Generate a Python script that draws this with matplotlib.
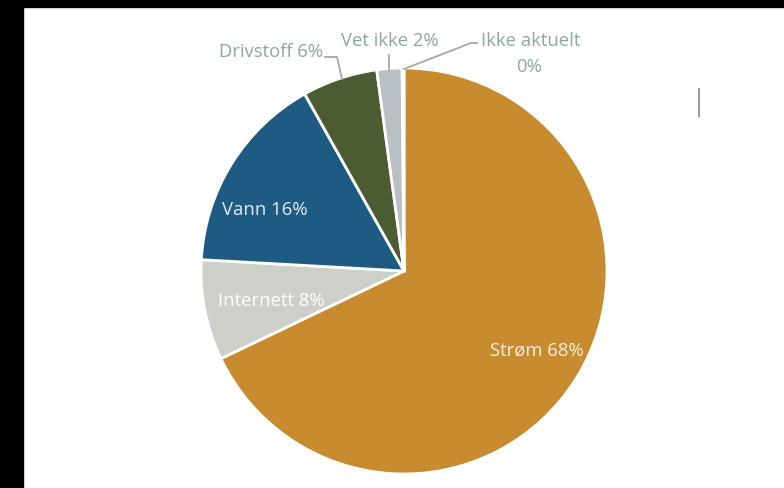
import matplotlib
matplotlib.use("Agg")
import matplotlib.pyplot as plt
from matplotlib.patches import Rectangle

categories = ["Strøm", "Internett", "Vann", "Drivstoff", "Vet ikke", "Ikke aktuelt"]
values = [68, 8, 16, 6, 2, 0.15]
pct_labels = ["68%", "8%", "16%", "6%", "2%", "0%"]
colors = ["#C98B2F", "#CDD0C8", "#1E5B82", "#4D5B32", "#B9C0C5", "#B9C0C5"]

W, H = 784, 489
plt.rcParams['font.family'] = ['Open Sans', 'DejaVu Sans']
fig = plt.figure(figsize=(W / 100, H / 100), dpi=100)
ax = fig.add_axes([0, 0, 1, 1])

def py(y):
    return H - y

cx, cy, r = 404, 272, 203
ax.pie(values, colors=colors, startangle=90, counterclock=False,
       center=(cx, py(cy)), radius=r,
       wedgeprops=dict(edgecolor="white", linewidth=2))
ax.set_xlim(0, W)
ax.set_ylim(0, H)
ax.set_aspect("equal")
ax.axis("off")

fs = 13.3
# inner labels
ax.text(537, py(351), f"{categories[0]} {pct_labels[0]}", color="#F5EFDD",
        fontsize=fs, ha="center", va="center")
ax.text(271, py(301), f"{categories[1]} {pct_labels[1]}", color="#FFFFFF",
        fontsize=fs, ha="center", va="center")
ax.text(265, py(210), f"{categories[2]} {pct_labels[2]}", color="#E3EAF0",
        fontsize=fs, ha="center", va="center")

# outer labels
lab_col = "#8CA997"
line_col = "#A5A9A6"
ax.text(323, py(52), f"{categories[3]} {pct_labels[3]}", color=lab_col,
        fontsize=fs, ha="right", va="center")
ax.plot([325, 337, 342], [py(58), py(58), py(80)], color=line_col, lw=1.3)
ax.text(390, py(41), f"{categories[4]} {pct_labels[4]}", color=lab_col,
        fontsize=fs, ha="center", va="center")
ax.plot([389, 389], [py(56), py(71)], color=line_col, lw=1.3)
ax.text(531, py(41), categories[5], color=lab_col,
        fontsize=fs, ha="center", va="center")
ax.text(529, py(67), pct_labels[5], color=lab_col,
        fontsize=fs, ha="center", va="center")
ax.plot([477, 471, 404], [py(44), py(44), py(70)], color=line_col, lw=1.3)

# small artifact line on the right
ax.plot([699, 699], [py(90), py(117)], color="#9A9A9A", lw=1.5)

# black borders
ax.add_patch(Rectangle((0, 0), 23, H, color="black", zorder=10))
ax.add_patch(Rectangle((0, py(8)), W, 8, color="black", zorder=10))

fig.savefig("out.png", dpi=100)
